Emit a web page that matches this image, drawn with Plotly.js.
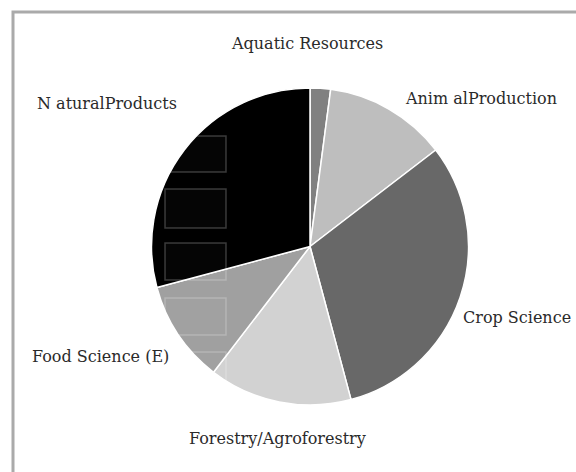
<!DOCTYPE html>
<html>
<head>
<meta charset="utf-8">
<script src="https://cdn.plot.ly/plotly-3.0.1.min.js"></script>
<style>html,body{margin:0;padding:0;background:#fff;}#chart{width:576px;height:472px;}</style>
</head>
<body>
<div id="chart"></div>
<script>
// Data
const categories = ["Aquatic Resources", "Animal Production", "Crop Science", "Forestry/Agroforestry", "Food Science (E)", "Natural Products"];
const values = [1, 6, 15, 7, 5, 14];
const sliceColors = ["#808080", "#bebebe", "#686868", "#d2d2d2", "#a0a0a0", "#000000"];
// Label text as shown in the picture, with label anchor positions in pixels
const labelTexts = ["Aquatic Resources", "Anim alProduction", "Crop Science", "Forestry/Agroforestry", "Food Science (E)", "N aturalProducts"];
const labelPx = [[307, 44], [481, 98], [573, 317], [277, 438], [30, 356], [107, 104]];
const labelAnchor = ["center", "center", "right", "center", "left", "center"];

const W = 576, H = 472;
const cx = 310, cy = 246.5, r = 158.5;

const annotations = labelTexts.map((t, i) => ({
  text: t, xref: "paper", yref: "paper",
  x: labelPx[i][0] / W, y: 1 - labelPx[i][1] / H,
  xanchor: labelAnchor[i], yanchor: "middle", showarrow: false,
  font: {family: "DejaVu Serif", size: 16, color: "#2a2a2a"}
}));

// faint overlay rectangles seen on the left part of the pie
const ghostRows = [[136, 172], [189, 228], [243, 280], [298, 335], [352, 392]];
const shapes = ghostRows.map(rw => ({
  type: "rect", xref: "paper", yref: "paper", layer: "above",
  x0: 165 / W, x1: 226 / W, y0: 1 - rw[1] / H, y1: 1 - rw[0] / H,
  fillcolor: "rgba(255,255,255,0.02)",
  line: {color: "rgba(255,255,255,0.22)", width: 1.5}
}));
shapes.push({
  type: "rect", xref: "paper", yref: "paper", layer: "above",
  x0: 13 / W, x1: 1.05, y0: -0.05, y1: 1 - 12 / H,
  line: {color: "#aaaaaa", width: 3}, fillcolor: "rgba(0,0,0,0)"
});

const trace = {
  type: "pie",
  labels: categories,
  values: values,
  sort: false,
  direction: "clockwise",
  rotation: 0,
  textinfo: "none",
  hoverinfo: "label+value+percent",
  marker: {colors: sliceColors, line: {color: "#ffffff", width: 1.5}},
  domain: {x: [(cx - r) / W, (cx + r) / W], y: [(H - cy - r) / H, (H - cy + r) / H]}
};

Plotly.newPlot("chart", [trace], {
  width: W, height: H,
  margin: {l: 0, r: 0, t: 0, b: 0},
  paper_bgcolor: "#ffffff",
  showlegend: false,
  annotations: annotations,
  shapes: shapes
}, {displayModeBar: false, staticPlot: true});
</script>
</body>
</html>
